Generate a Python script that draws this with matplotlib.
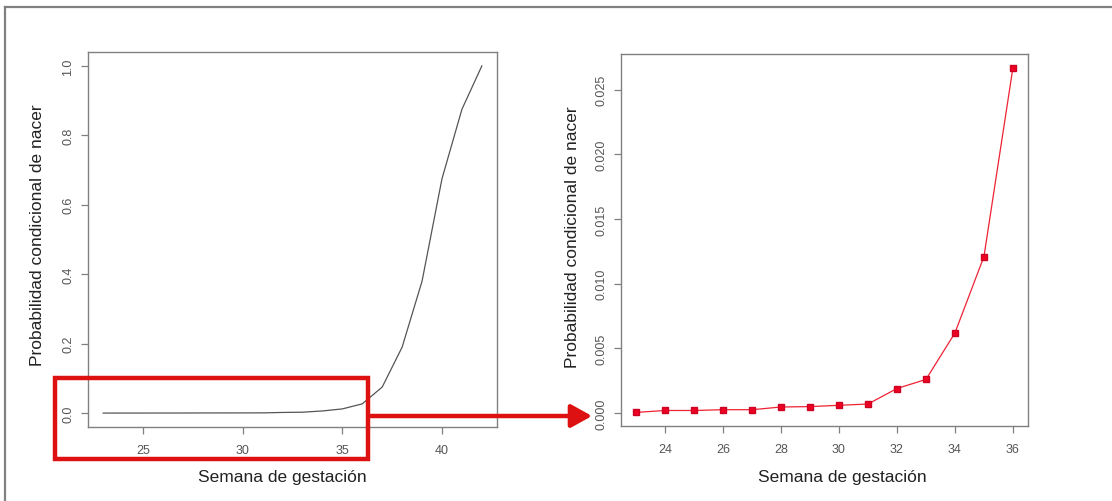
import matplotlib
matplotlib.use('Agg')
import matplotlib.pyplot as plt
from matplotlib.patches import Rectangle, FancyArrowPatch
from matplotlib.lines import Line2D

# Data
semanas = [23, 24, 25, 26, 27, 28, 29, 30, 31, 32, 33, 34, 35, 36,
           37, 38, 39, 40, 41, 42]
prob_nacer = [0.00005, 0.0002, 0.0002, 0.00026, 0.00026, 0.00047, 0.0005,
              0.0006, 0.0007, 0.0019, 0.0026, 0.0062, 0.0121, 0.0267,
              0.075, 0.19, 0.38, 0.675, 0.875, 1.0]
n_zoom = 14  # weeks 23..36 in the zoomed panel

left_xticks = [25, 30, 35, 40]
left_yticks = [0.0, 0.2, 0.4, 0.6, 0.8, 1.0]
right_xticks = [24, 26, 28, 30, 32, 34, 36]
right_yticks = [0.000, 0.005, 0.010, 0.015, 0.020, 0.025]

plt.rcParams['font.family'] = ['Liberation Sans', 'DejaVu Sans']

W, H = 1112, 502
fig = plt.figure(figsize=(W / 100, H / 100), dpi=100)

frame_col = '#808080'
tick_col = '#555555'


def px_rect(x0, y0, x1, y1):
    return [x0 / W, (H - y1) / H, (x1 - x0) / W, (y1 - y0) / H]


def style_axes(ax):
    for s in ax.spines.values():
        s.set_color(frame_col)
        s.set_linewidth(1.0)
    ax.tick_params(axis='both', direction='out', length=5, width=0.9,
                   color=frame_col, labelcolor=tick_col, labelsize=9)
    ax.tick_params(axis='y', pad=5)
    ax.tick_params(axis='x', pad=7)
    for lab in ax.get_yticklabels():
        lab.set_rotation(90)
        lab.set_va('center')


ylab = 'Probabilidad condicional de nacer'
xlab = 'Semana de gestación'

# Left panel: full curve
ax1 = fig.add_axes(px_rect(88, 53, 497, 428))
ax1.plot(semanas, prob_nacer, color='#555555', linewidth=0.9)
ax1.set_xlim(22.24, 42.76)
ax1.set_ylim(-0.04, 1.04)
ax1.set_xticks(left_xticks)
ax1.set_xticklabels([str(v) for v in left_xticks])
ax1.set_yticks(left_yticks)
ax1.set_yticklabels([f'{v:.1f}' for v in left_yticks])
style_axes(ax1)
ax1.set_ylabel(ylab, fontsize=12.5, color='#222222')
ax1.set_xlabel(xlab, fontsize=12.5, color='#222222')
ax1.yaxis.set_label_coords(-0.105, 0.515)
ax1.xaxis.set_label_coords(0.474, -0.112)

# Right panel: zoom on weeks 23-36
ax2 = fig.add_axes(px_rect(621, 55, 1028, 427))
ax2.plot(semanas[:n_zoom], prob_nacer[:n_zoom], color='#ee2233',
         linewidth=0.9, marker='s', markersize=4.5,
         markerfacecolor='#ee0022', markeredgecolor='#cc0022')
ax2.set_xlim(22.48, 36.52)
ax2.set_ylim(-0.001, 0.02777)
ax2.set_xticks(right_xticks)
ax2.set_xticklabels([str(v) for v in right_xticks])
ax2.set_yticks(right_yticks)
ax2.set_yticklabels([f'{v:.3f}' for v in right_yticks])
style_axes(ax2)
ax2.set_ylabel(ylab, fontsize=12.5, color='#222222')
ax2.set_xlabel(xlab, fontsize=12.5, color='#222222')
ax2.yaxis.set_label_coords(-0.101, 0.509)
ax2.xaxis.set_label_coords(0.543, -0.116)

# Outer frame (top and left edges only)
fig.add_artist(Line2D([5 / W, 1.0], [(H - 8) / H, (H - 8) / H],
                      transform=fig.transFigure, color=frame_col, lw=1.6))
fig.add_artist(Line2D([5 / W, 5 / W], [0.0, (H - 8) / H],
                      transform=fig.transFigure, color=frame_col, lw=1.6))

# Red highlight box and arrow
red = '#dd1111'
fig.add_artist(Rectangle((55 / W, (H - 460) / H), (368 - 55) / W, (460 - 379) / H,
                         transform=fig.transFigure, fill=False,
                         edgecolor=red, linewidth=3.2, zorder=10))
fig.add_artist(FancyArrowPatch((370 / W, (H - 417) / H), (592 / W, (H - 417) / H),
                               transform=fig.transFigure,
                               arrowstyle='-|>,head_length=0.9,head_width=0.5',
                               color=red, linewidth=3.2, mutation_scale=14,
                               shrinkA=0, shrinkB=0, zorder=10))

fig.savefig('out.png', dpi=100)
